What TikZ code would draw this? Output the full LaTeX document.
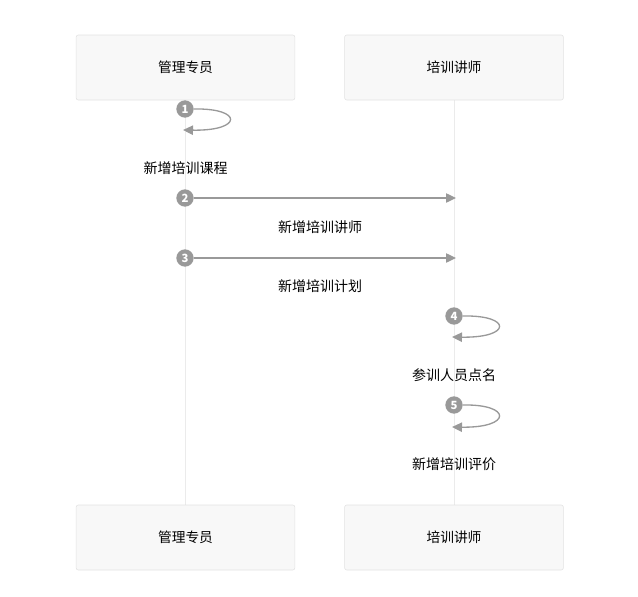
\documentclass[tikz,border=0pt]{standalone}
\usepackage{fontspec}
\setmainfont{Noto Sans CJK SC}
\usetikzlibrary{arrows.meta}
\definecolor{boxfill}{HTML}{F8F8F8}
\definecolor{boxline}{HTML}{E2E2E2}
\definecolor{lifeline}{HTML}{EBEBEB}
\definecolor{msggray}{HTML}{999999}
\tikzset{
  actor/.style={draw=boxline, fill=boxfill, rounded corners=1.5pt, minimum width=164pt, minimum height=48.75pt, font=\fontsize{10.3}{12}\selectfont},
  stepnum/.style={circle, fill=msggray, inner sep=0pt, minimum size=13pt, text=white, font=\fontsize{8.5}{8.5}\selectfont\bfseries},
  msg/.style={draw=msggray, line width=1pt, -{Triangle[length=7.5pt,width=7pt]}},
  msglabel/.style={font=\fontsize{10.5}{12}\selectfont}
}
\begin{document}
\begin{tikzpicture}[x=0.75pt, y=-0.75pt]
		\useasboundingbox (0,0) rectangle (638,596);
		
		% lifelines
		\draw[lifeline, line width=0.75pt] (185,100) -- (185,505);
		\draw[lifeline, line width=0.75pt] (454,100) -- (454,505);
		
		% actors
		\node[actor] (mgrtop) at (185.5,67.5) {管理专员};
		\node[actor] (tchtop) at (454,67.5) {培训讲师};
		\node[actor] (mgrbot) at (185.5,537.5) {管理专员};
		\node[actor] (tchbot) at (454,537.5) {培训讲师};
		
		% 1: self message
		\node[stepnum] (s1) at (185,109) {1};
		\coordinate (e1) at (183,130);
		\draw[msg] (s1.east) .. controls (243,108) and (243,131) .. (e1);
		\node[msglabel] (l1) at (185.5,168) {新增培训课程};
		
		% 2
		\node[stepnum] (s2) at (185,198) {2};
		\coordinate (e2) at (456,198);
		\draw[msg] (s2.east) -- (e2);
		\node[msglabel] (l2) at (320,227) {新增培训讲师};
		
		% 3
		\node[stepnum] (s3) at (185,258) {3};
		\coordinate (e3) at (456,258);
		\draw[msg] (s3.east) -- (e3);
		\node[msglabel] (l3) at (320,286) {新增培训计划};
		
		% 4: self message
		\node[stepnum] (s4) at (454,316) {4};
		\coordinate (e4) at (452,337);
		\draw[msg] (s4.east) .. controls (512,315) and (512,338) .. (e4);
		\node[msglabel] (l4) at (454,375) {参训人员点名};
		
		% 5: self message
		\node[stepnum] (s5) at (454,405) {5};
		\coordinate (e5) at (452,427);
		\draw[msg] (s5.east) .. controls (512,404) and (512,428) .. (e5);
		\node[msglabel] (l5) at (454,464) {新增培训评价};
		
\end{tikzpicture}
\end{document}
